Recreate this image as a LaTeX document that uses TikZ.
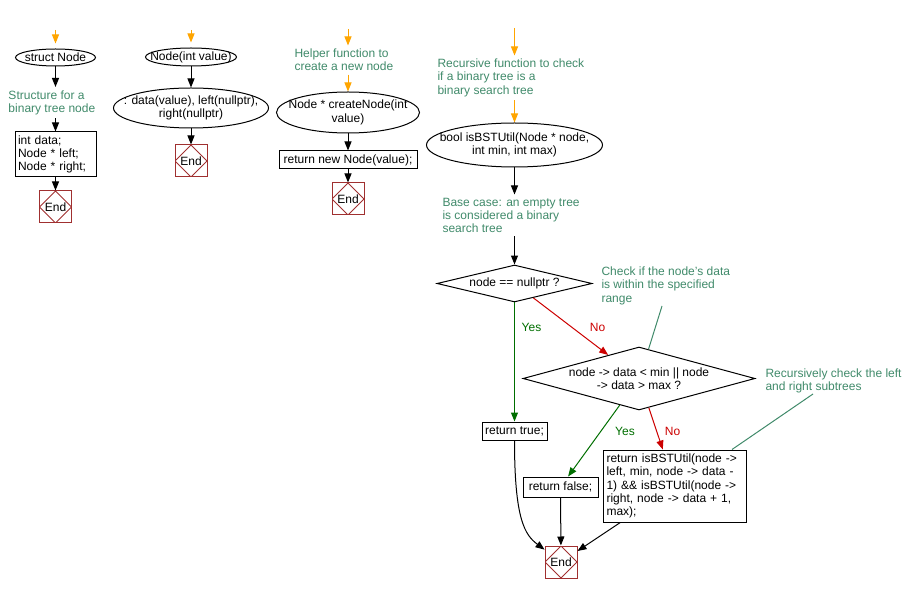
\documentclass[tikz,border=0pt]{standalone}
\usepackage{fontspec}
\setmainfont{Liberation Sans}
\usepackage{tikz}
\usetikzlibrary{shapes.geometric,arrows.meta}

\definecolor{notegreen}{RGB}{64,138,106}
\definecolor{yesgreen}{RGB}{0,110,0}
\definecolor{nored}{RGB}{204,0,0}
\definecolor{endred}{RGB}{160,48,48}
\definecolor{startorange}{RGB}{255,165,0}

\begin{document}
\begin{tikzpicture}[x=1pt,y=-1pt,line width=1pt,font=\fontsize{12}{13.3}\selectfont,
    ell/.style={ellipse,draw,inner xsep=-14pt,inner ysep=0pt,align=center},
    box/.style={rectangle,draw,inner xsep=3pt,inner ysep=0pt,align=left},
    cond/.style={diamond,draw,aspect=3.7,inner xsep=-4pt,inner ysep=0pt,align=center},
    note/.style={anchor=north west,inner xsep=0pt,inner ysep=3pt,align=left,text=notegreen},
    endbox/.style={rectangle,draw=endred,minimum size=32pt,inner sep=0pt,
        path picture={\draw[endred] (path picture bounding box.north) -- (path picture bounding box.east)
            -- (path picture bounding box.south) -- (path picture bounding box.west) -- cycle;}},
    arr/.style={-{Triangle[length=9pt,width=7pt]}},
    startarr/.style={startorange,-{Triangle[length=9pt,width=7pt]}},
    yesarr/.style={yesgreen,-{Triangle[length=9pt,width=7pt]}},
    noarr/.style={nored,-{Triangle[length=9pt,width=7pt]}},
    noteline/.style={notegreen}]

\useasboundingbox (0,0) rectangle (915,593);

\coordinate (t1) at (55.5,30);
\node[ell,minimum width=80pt,minimum height=17pt] (e1) at (55.5,57.5) {struct Node};
\node[note] (c1) at (8,87) {Structure for a\\binary tree node};
\node[box,text width=75pt,minimum height=45pt] (box1) at (55.5,154.5) {int data;\\Node * left;\\Node * right;};
\node[endbox] (end1) at (55.5,207) {End};

\draw[startarr,shorten >=5pt] (t1) -- (e1);
\draw[arr] (e1) -- (e1 |- c1.north);
\draw[arr] (box1 |- c1.south) -- (box1);
\draw[arr] (box1) -- (end1);

\coordinate (t2) at (191,30);
\node[ell,minimum width=91pt,minimum height=18pt] (e2) at (191,57) {Node(int value)};
\node[ell,minimum width=155pt,minimum height=40pt] (e3) at (191,108) {: data(value), left(nullptr),\\right(nullptr)};
\node[endbox] (end2) at (191,161) {End};

\draw[startarr,shorten >=5pt] (t2) -- (e2);
\draw[arr] (e2) -- (e3);
\draw[arr] (e3) -- (end2);

\coordinate (t3) at (348,29);
\node[note] (c2) at (294,45.5) {Helper function to\\create a new node};
\node[ell,minimum width=143pt,minimum height=41pt] (e4) at (348,112.5) {Node * createNode(int\\value)};
\node[box,minimum width=138pt,minimum height=18pt] (box2) at (348,160) {return new Node(value);};
\node[endbox] (end3) at (348,199) {End};

\draw[startarr] (t3) -- (t3 |- c2.north);
\draw[startarr] (e4 |- c2.south) -- (e4);
\draw[arr] (e4) -- (box2);
\draw[arr] (box2) -- (end3);

\coordinate (t4) at (514.5,28);
\node[note] (c3) at (437,55.5) {Recursive function to check\\if a binary tree is a\\binary search tree};
\node[ell,minimum width=176pt,minimum height=44pt] (e5) at (514.5,145) {bool isBSTUtil(Node * node,\\int min, int max)};
\node[note] (c4) at (442,194.5) {Base case: an empty tree\\is considered a binary\\search tree};
\node[cond,minimum width=155pt,minimum height=37pt] (d1) at (514.5,283.5) {node == nullptr ?};
\node[cond,minimum width=232pt,minimum height=63pt] (d2) at (639,378.5) {node -> data < min || node\\-> data > max ?};
\node[note] (c5) at (601,263.5) {Check if the node's data\\is within the specified\\range};
\node[note] (c6) at (765,365.5) {Recursively check the left\\and right subtrees};
\node[box,minimum width=65pt,minimum height=18pt] (rtrue) at (514.5,431) {return true;};
\node[box,minimum width=75pt,minimum height=20pt] (rfalse) at (560.5,487) {return false;};
\node[box,text width=137pt,minimum height=72pt] (rbst) at (675,486) {return isBSTUtil(node ->\\left, min, node -> data -\\1) \&\& isBSTUtil(node ->\\right, node -> data + 1,\\max);};
\node[endbox] (end4) at (561,562) {End};

\node[text=yesgreen] (yes1) at (531.5,327) {Yes};
\node[text=nored] (no1) at (597.5,327) {No};
\node[text=yesgreen] (yes2) at (625,431) {Yes};
\node[text=nored] (no2) at (672.5,431) {No};

\coordinate (n1) at (662,306);
\coordinate (n2) at (813,394);

\draw[startarr] (t4) -- (t4 |- c3.north);
\draw[startarr] (e5 |- c3.south) -- (e5);
\draw[arr] (e5) -- (e5 |- c4.north);
\draw[arr] (d1 |- c4.south) -- (d1);
\draw[yesarr] (d1) -- (rtrue);
\draw[noarr] (d1) -- (d2);
\draw[yesarr] (d2) -- (rfalse);
\draw[noarr] (d2) -- (rbst);
\draw[arr] (rtrue) .. controls (514.5,520) and (525,535) .. (end4);
\draw[arr] (rfalse) -- (end4);
\draw[arr] (rbst) -- (end4);
\draw[noteline] (n1) -- (d2.72);
\draw[noteline] (n2) -- ([xshift=-15pt]rbst.north east);

\end{tikzpicture}
\end{document}
